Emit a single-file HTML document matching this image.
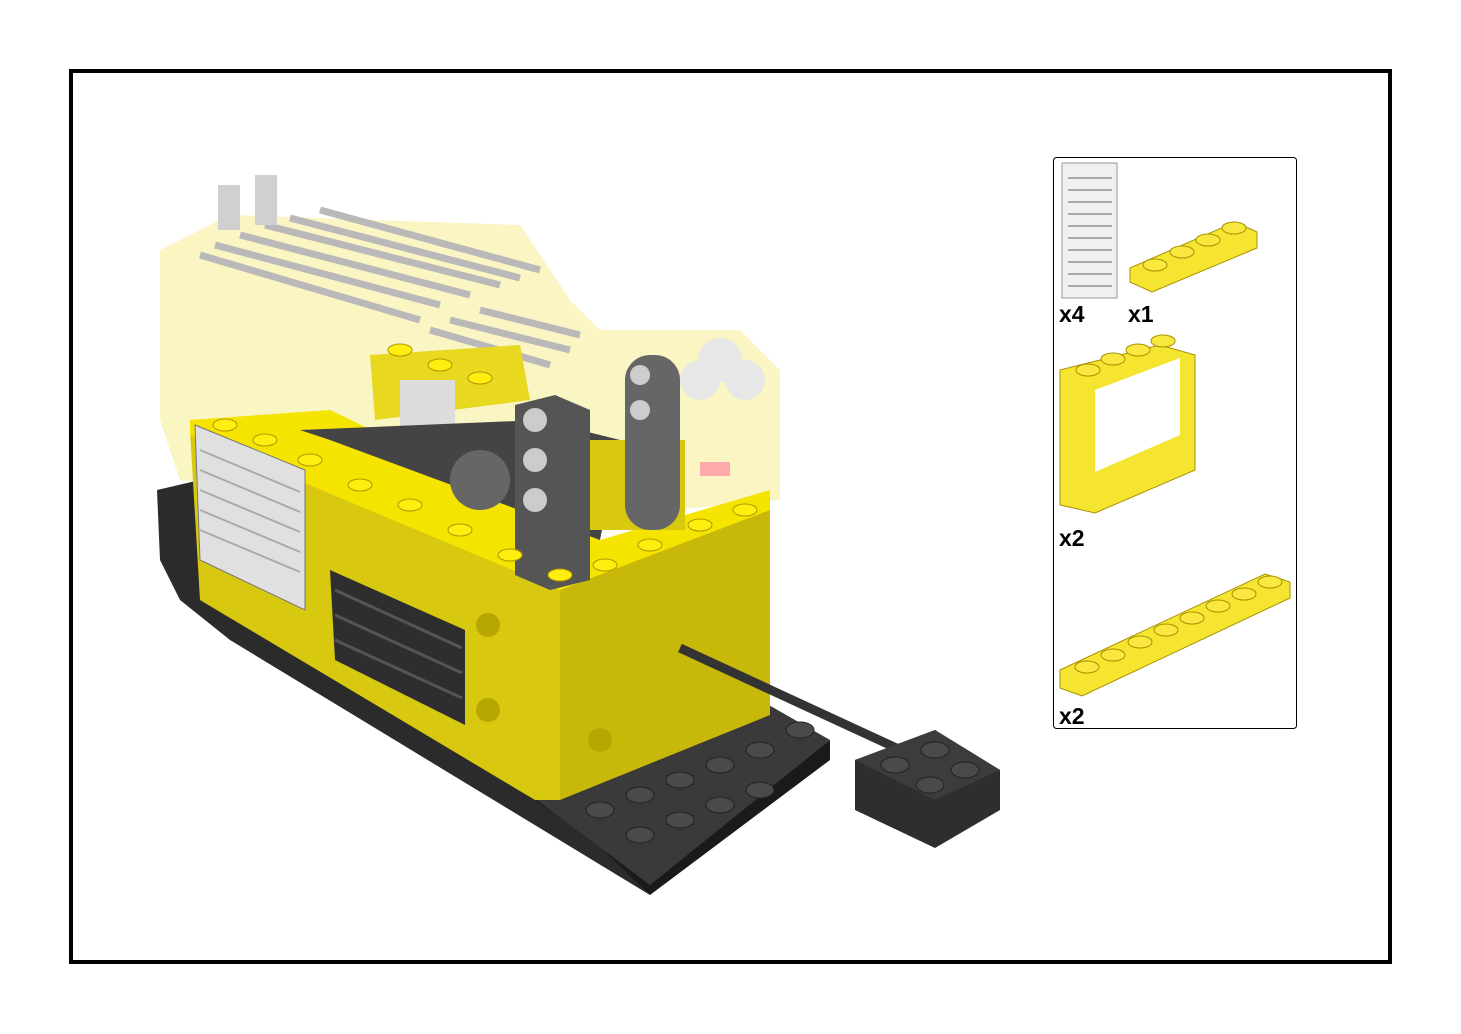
<!DOCTYPE html>
<html><head><meta charset="utf-8"><style>
html,body{margin:0;padding:0;background:#fff;}
svg{display:block}
text{font-family:"Liberation Sans",Arial,sans-serif;font-weight:bold;font-size:23px;fill:#000}
</style></head><body>
<svg width="1461" height="1034" viewBox="0 0 1461 1034" xmlns="http://www.w3.org/2000/svg">
<rect x="71" y="71" width="1319" height="891" fill="#fff" stroke="#000" stroke-width="4"/>

<g opacity="0.45">
<polygon points="160,250 230,215 520,225 570,300 600,330 740,330 780,370 780,500 560,520 180,480 160,420" fill="#f5ea7a"/>
<g stroke="#666" stroke-width="7">
<line x1="200" y1="255" x2="420" y2="320"/><line x1="215" y1="245" x2="440" y2="305"/>
<line x1="240" y1="235" x2="470" y2="295"/><line x1="265" y1="225" x2="500" y2="285"/>
<line x1="290" y1="218" x2="520" y2="278"/><line x1="320" y1="210" x2="540" y2="270"/>
<line x1="430" y1="330" x2="550" y2="365"/><line x1="450" y1="320" x2="570" y2="350"/>
<line x1="480" y1="310" x2="580" y2="335"/>
</g>
<rect x="218" y="185" width="22" height="45" fill="#999"/><rect x="255" y="175" width="22" height="50" fill="#999"/>
<circle cx="720" cy="360" r="22" fill="#ccc"/><circle cx="745" cy="380" r="20" fill="#ccc"/><circle cx="700" cy="380" r="20" fill="#ccc"/>
<rect x="700" y="462" width="30" height="14" fill="#f44"/>
</g>

<polygon points="157,490 200,480 540,640 540,800 560,800 650,895 230,640 180,600 160,560" fill="#2b2b2b"/>
<polygon points="220,610 530,780 650,895 830,760 830,740 650,880 520,790 225,600" fill="#1a1a1a"/>
<polygon points="510,780 760,700 830,740 650,885" fill="#3a3a3a"/>
<g fill="#4a4a4a" stroke="#222">
<ellipse cx="600" cy="810" rx="14" ry="8"/><ellipse cx="640" cy="795" rx="14" ry="8"/><ellipse cx="680" cy="780" rx="14" ry="8"/>
<ellipse cx="720" cy="765" rx="14" ry="8"/><ellipse cx="760" cy="750" rx="14" ry="8"/><ellipse cx="640" cy="835" rx="14" ry="8"/>
<ellipse cx="680" cy="820" rx="14" ry="8"/><ellipse cx="720" cy="805" rx="14" ry="8"/><ellipse cx="760" cy="790" rx="14" ry="8"/>
<ellipse cx="800" cy="730" rx="14" ry="8"/>
</g>

<polygon points="370,355 520,345 530,400 375,420" fill="#e8d820"/>
<rect x="400" y="380" width="55" height="60" fill="#ddd"/>

<polygon points="190,430 560,585 560,800 535,800 200,600" fill="#d8c810"/>
<polygon points="560,585 770,505 770,715 560,800" fill="#c8b80a"/>
<polygon points="190,420 330,410 600,540 770,490 770,510 560,590 190,435" fill="#f5e400"/>
<polygon points="300,430 540,420 620,440 600,540 330,440" fill="#444"/>
<rect x="585" y="440" width="100" height="90" fill="#d8c810"/>
<polygon points="195,425 305,470 305,610 200,560" fill="#e0e0e0" stroke="#777"/>
<g stroke="#aaa" stroke-width="2">
<line x1="200" y1="450" x2="300" y2="492"/><line x1="200" y1="470" x2="300" y2="512"/><line x1="200" y1="490" x2="300" y2="532"/><line x1="200" y1="510" x2="300" y2="552"/><line x1="200" y1="530" x2="300" y2="572"/>
</g>
<polygon points="330,570 465,630 465,725 335,660" fill="#2e2e2e"/>
<g stroke="#555" stroke-width="3"><line x1="335" y1="590" x2="462" y2="648"/><line x1="335" y1="615" x2="462" y2="673"/><line x1="335" y1="640" x2="462" y2="698"/></g>
<polygon points="515,405 555,395 590,410 590,580 550,590 515,575" fill="#555"/>
<rect x="625" y="355" width="55" height="175" rx="25" fill="#666"/>
<circle cx="535" cy="420" r="12" fill="#ccc"/><circle cx="535" cy="460" r="12" fill="#ccc"/><circle cx="535" cy="500" r="12" fill="#ccc"/>
<circle cx="640" cy="375" r="10" fill="#ccc"/><circle cx="640" cy="410" r="10" fill="#ccc"/>
<circle cx="480" cy="480" r="30" fill="#666"/>
<g fill="#ffee10" stroke="#b09800">
<ellipse cx="225" cy="425" rx="12" ry="6"/><ellipse cx="265" cy="440" rx="12" ry="6"/><ellipse cx="310" cy="460" rx="12" ry="6"/>
<ellipse cx="360" cy="485" rx="12" ry="6"/><ellipse cx="410" cy="505" rx="12" ry="6"/><ellipse cx="460" cy="530" rx="12" ry="6"/>
<ellipse cx="510" cy="555" rx="12" ry="6"/><ellipse cx="560" cy="575" rx="12" ry="6"/><ellipse cx="605" cy="565" rx="12" ry="6"/>
<ellipse cx="650" cy="545" rx="12" ry="6"/><ellipse cx="700" cy="525" rx="12" ry="6"/><ellipse cx="745" cy="510" rx="12" ry="6"/>
<ellipse cx="400" cy="350" rx="12" ry="6"/><ellipse cx="440" cy="365" rx="12" ry="6"/><ellipse cx="480" cy="378" rx="12" ry="6"/>
</g>
<circle cx="600" cy="740" r="12" fill="#b8a600"/><circle cx="488" cy="710" r="12" fill="#b8a600"/><circle cx="488" cy="625" r="12" fill="#b8a600"/>
<line x1="680" y1="648" x2="905" y2="752" stroke="#333" stroke-width="9"/>
<polygon points="855,760 935,730 1000,770 1000,810 935,848 855,810" fill="#2e2e2e"/>
<polygon points="855,760 935,730 1000,770 935,800" fill="#3c3c3c"/>
<g fill="#4a4a4a" stroke="#222"><ellipse cx="895" cy="765" rx="14" ry="8"/><ellipse cx="935" cy="750" rx="14" ry="8"/><ellipse cx="965" cy="770" rx="14" ry="8"/><ellipse cx="930" cy="785" rx="14" ry="8"/></g>

<rect x="1053.5" y="157.5" width="243" height="571" rx="3" fill="#fff" stroke="#000"/>
<rect x="1062" y="163" width="55" height="135" fill="#f0f0f0" stroke="#999"/>
<g stroke="#aaa" stroke-width="2">
<line x1="1068" y1="178" x2="1112" y2="178"/><line x1="1068" y1="190" x2="1112" y2="190"/><line x1="1068" y1="202" x2="1112" y2="202"/><line x1="1068" y1="214" x2="1112" y2="214"/><line x1="1068" y1="226" x2="1112" y2="226"/><line x1="1068" y1="238" x2="1112" y2="238"/><line x1="1068" y1="250" x2="1112" y2="250"/><line x1="1068" y1="262" x2="1112" y2="262"/><line x1="1068" y1="274" x2="1112" y2="274"/><line x1="1068" y1="286" x2="1112" y2="286"/>
</g>
<polygon points="1130,268 1235,222 1257,232 1257,248 1152,292 1130,282" fill="#f6e530" stroke="#a99200"/>
<g fill="#fae840" stroke="#a99200"><ellipse cx="1155" cy="265" rx="12" ry="6"/><ellipse cx="1182" cy="252" rx="12" ry="6"/><ellipse cx="1208" cy="240" rx="12" ry="6"/><ellipse cx="1234" cy="228" rx="12" ry="6"/></g>
<polygon points="1060,370 1160,345 1195,355 1195,470 1095,513 1060,505" fill="#f6e530" stroke="#a99200"/>
<polygon points="1095,390 1180,358 1180,435 1095,472" fill="#fff"/>
<g fill="#fae840" stroke="#a99200"><ellipse cx="1088" cy="370" rx="12" ry="6"/><ellipse cx="1113" cy="359" rx="12" ry="6"/><ellipse cx="1138" cy="350" rx="12" ry="6"/><ellipse cx="1163" cy="341" rx="12" ry="6"/></g>
<polygon points="1060,670 1265,574 1290,582 1290,598 1082,696 1060,688" fill="#f6e530" stroke="#a99200"/>
<g fill="#fae840" stroke="#a99200">
<ellipse cx="1087" cy="667" rx="12" ry="6"/><ellipse cx="1113" cy="655" rx="12" ry="6"/><ellipse cx="1140" cy="642" rx="12" ry="6"/><ellipse cx="1166" cy="630" rx="12" ry="6"/>
<ellipse cx="1192" cy="618" rx="12" ry="6"/><ellipse cx="1218" cy="606" rx="12" ry="6"/><ellipse cx="1244" cy="594" rx="12" ry="6"/><ellipse cx="1270" cy="582" rx="12" ry="6"/>
</g>
<text x="1059" y="322">x4</text><text x="1128" y="322">x1</text>
<text x="1059" y="546">x2</text><text x="1059" y="724">x2</text>
</svg>
</body></html>
